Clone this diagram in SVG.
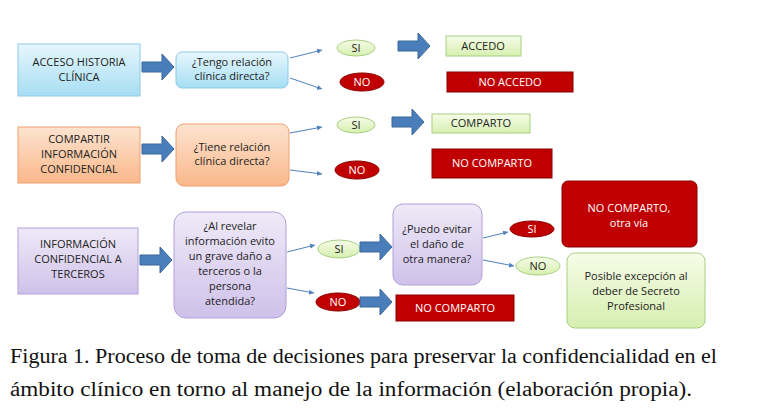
<svg xmlns="http://www.w3.org/2000/svg" width="759" height="415" viewBox="0 0 759 415">
<defs>
<linearGradient id="gb" x1="0" y1="0" x2="0" y2="1"><stop offset="0" stop-color="#e6f6fc"/><stop offset="1" stop-color="#a6def3"/></linearGradient>
<linearGradient id="go" x1="0" y1="0" x2="0" y2="1"><stop offset="0" stop-color="#fde3d0"/><stop offset="1" stop-color="#f9b88a"/></linearGradient>
<linearGradient id="gp" x1="0" y1="0" x2="0" y2="1"><stop offset="0" stop-color="#efeaf8"/><stop offset="1" stop-color="#cfc1ea"/></linearGradient>
<linearGradient id="gg" x1="0" y1="0" x2="0" y2="1"><stop offset="0" stop-color="#f6fce8"/><stop offset="1" stop-color="#d6efb0"/></linearGradient>
<marker id="ah" markerWidth="6" markerHeight="6" refX="5" refY="3" orient="auto"><path d="M0,0.5 L5,3 L0,5.5z" fill="#4f81bd"/></marker>
<path id="blk" d="M0,-5 H20 V-13 L32,0 L20,13 V5 H0z" fill="#4a7ebb" stroke="#3a6699" stroke-width="1"/>
</defs>
<style>
text{font-family:"Open Sans","Liberation Sans",sans-serif;font-size:11px;text-anchor:middle;fill:#222}
.w{fill:#fff}
.blue{fill:url(#gb);stroke:#8ec9e6}
.or{fill:url(#go);stroke:#f0a070}
.pu{fill:url(#gp);stroke:#b0a0d8}
.gr{fill:url(#gg);stroke:#a8d080}
.red{fill:#c00000;stroke:#8a0000}
.cap{font-family:"Liberation Serif",serif;font-size:20px;text-anchor:start;fill:#111}
.ln{stroke:#4f81bd;stroke-width:1;fill:none;marker-end:url(#ah)}
</style>
<rect width="759" height="415" fill="#fff"/>
<g id="n1"><rect class="blue" x="18" y="44" width="122" height="52"/><text x="79" y="66">ACCESO HISTORIA</text><text x="79" y="81">CLÍNICA</text></g>
<g id="q1"><rect class="blue" x="176" y="52" width="112" height="36" rx="6"/><text x="232" y="66">¿Tengo relación</text><text x="232" y="80">clínica directa?</text></g>
<g id="si1"><ellipse class="gr" cx="356" cy="48" rx="19" ry="8"/><text x="356" y="52">SI</text></g>
<g id="no1"><ellipse class="red" cx="362" cy="82" rx="22" ry="9"/><text class="w" x="362" y="86">NO</text></g>
<g id="r1a"><rect class="gr" x="446" y="36" width="75" height="20"/><text x="483" y="50">ACCEDO</text></g>
<g id="r1b"><rect class="red" x="447" y="72" width="126" height="20"/><text class="w" x="510" y="86">NO ACCEDO</text></g>

<g id="n2"><rect class="or" x="18" y="127" width="122" height="56"/><text x="79" y="143">COMPARTIR</text><text x="79" y="158">INFORMACIÓN</text><text x="79" y="173">CONFIDENCIAL</text></g>
<g id="q2"><rect class="or" x="176" y="124" width="113" height="62" rx="8"/><text x="232" y="151">¿Tiene relación</text><text x="232" y="165">clínica directa?</text></g>
<g id="si2"><ellipse class="gr" cx="356" cy="125" rx="19" ry="8"/><text x="356" y="129">SI</text></g>
<g id="no2"><ellipse class="red" cx="357" cy="170" rx="22" ry="9"/><text class="w" x="357" y="174">NO</text></g>
<g id="r2a"><rect class="gr" x="432" y="114" width="98" height="19"/><text x="481" y="127">COMPARTO</text></g>
<g id="r2b"><rect class="red" x="432" y="149" width="120" height="29"/><text class="w" x="492" y="167">NO COMPARTO</text></g>

<g id="n3"><rect class="pu" x="18" y="228" width="120" height="66"/><text x="78" y="248">INFORMACIÓN</text><text x="78" y="263">CONFIDENCIAL A</text><text x="78" y="278">TERCEROS</text></g>
<g id="q3"><rect class="pu" x="174" y="212" width="112" height="106" rx="12"/><text x="230" y="230">¿Al revelar</text><text x="230" y="245">información evito</text><text x="230" y="260">un grave daño a</text><text x="230" y="275">terceros o la</text><text x="230" y="290">persona</text><text x="230" y="305">atendida?</text></g>
<g id="si3"><ellipse class="gr" cx="339" cy="249" rx="21" ry="9"/><text x="339" y="253">SI</text></g>
<g id="no3"><ellipse class="red" cx="338" cy="302" rx="22" ry="9"/><text class="w" x="338" y="306">NO</text></g>
<g id="q4"><rect class="pu" x="393" y="204" width="89" height="81" rx="10"/><text x="437" y="233">¿Puedo evitar</text><text x="437" y="248">el daño de</text><text x="437" y="263">otra manera?</text></g>
<g id="si4"><ellipse class="red" cx="532" cy="229" rx="22" ry="8"/><text class="w" x="532" y="233">SI</text></g>
<g id="no4"><ellipse class="gr" cx="538" cy="266" rx="22" ry="9"/><text x="538" y="270">NO</text></g>
<g id="r3a"><rect class="red" x="562" y="181" width="135" height="66" rx="6"/><text class="w" x="629" y="212">NO COMPARTO,</text><text class="w" x="629" y="227">otra vía</text></g>
<g id="r3b"><rect class="gr" x="567" y="253" width="138" height="75" rx="8"/><text x="636" y="280">Posible excepción al</text><text x="636" y="295">deber de Secreto</text><text x="636" y="310">Profesional</text></g>
<g id="r3c"><rect class="red" x="396" y="295" width="118" height="26"/><text class="w" x="455" y="312">NO COMPARTO</text></g>

<g id="connectors">
<use href="#blk" x="142" y="67"/><use href="#blk" x="398" y="46"/>
<use href="#blk" x="142" y="149"/><use href="#blk" x="392" y="122"/>
<use href="#blk" x="140" y="260"/><use href="#blk" x="360" y="247"/><use href="#blk" x="360" y="302"/>
<path class="ln" d="M290,58 L322,50"/><path class="ln" d="M290,78 L322,89"/>
<path class="ln" d="M290,133 L322,127"/><path class="ln" d="M290,170 L322,174"/>
<path class="ln" d="M287,252 L315,245"/><path class="ln" d="M287,288 L314,293"/>
<path class="ln" d="M483,238 L508,232"/><path class="ln" d="M483,260 L514,266"/>
</g>
<text class="cap" x="10" y="363" textLength="707" lengthAdjust="spacingAndGlyphs">Figura 1. Proceso de toma de decisiones para preservar la confidencialidad en el</text>
<text class="cap" x="10" y="396" textLength="682" lengthAdjust="spacingAndGlyphs">ámbito clínico en torno al manejo de la información (elaboración propia).</text>
</svg>
